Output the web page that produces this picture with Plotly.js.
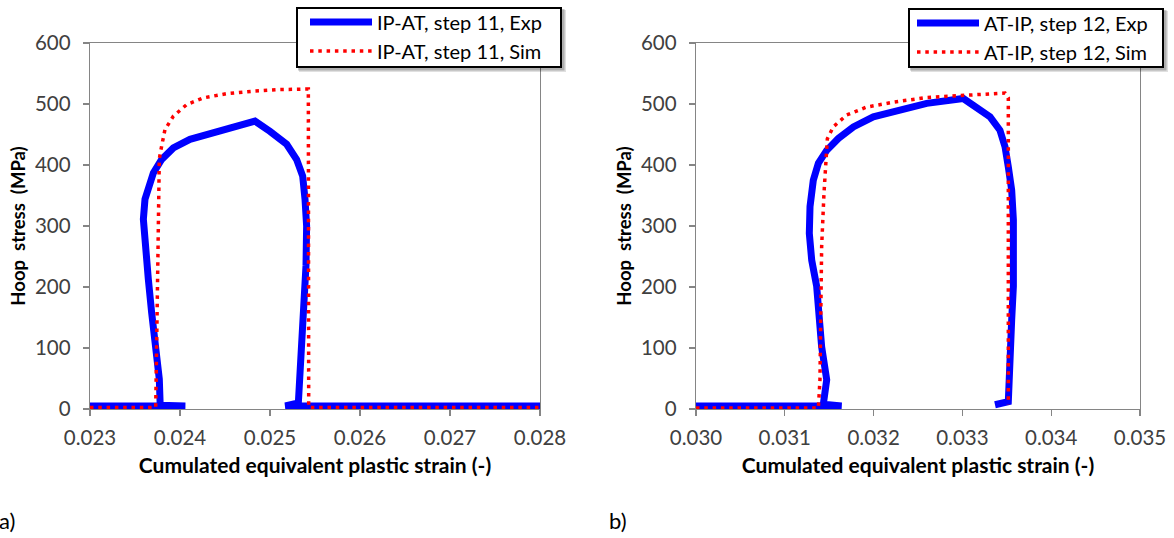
<!DOCTYPE html>
<html>
<head>
<meta charset="utf-8">
<script src="https://cdn.plot.ly/plotly-3.0.1.min.js"></script>
<style>html,body{margin:0;padding:0;background:#fff;}#chart{width:1174px;height:538px;}</style>
</head>
<body>
<div id="chart"></div>
<script>
// ---- Panel a) IP-AT, step 11 ----
const expA_x = [0.0230, 0.02406, 0.02378, 0.02377, 0.023722, 0.023685, 0.023648, 0.023611, 0.023593, 0.023611, 0.023648, 0.023704, 0.023796, 0.023926, 0.024111, 0.02437, 0.024593, 0.024833, 0.025, 0.025185, 0.025296, 0.025363, 0.025389, 0.025407, 0.0254, 0.025378, 0.025363, 0.025333, 0.025315, 0.02517, 0.0280];
const expA_y = [5, 5, 6, 49, 104, 158, 213, 267, 311, 344, 365, 387, 409, 428, 442, 453, 464, 472, 455, 434, 409, 382, 344, 300, 235, 169, 104, 49, 10, 5, 5];
const simA_x = [0.0230, 0.02373, 0.023745, 0.02376, 0.02377, 0.023796, 0.023833, 0.023926, 0.024074, 0.024259, 0.024519, 0.024815, 0.025111, 0.025426, 0.025428, 0.02543, 0.0280];
const simA_y = [2.5, 2.5, 150, 300, 410, 431, 458, 480, 499, 510, 517, 521, 523.6, 524.5, 300, 2.5, 2.5];

// ---- Panel b) AT-IP, step 12 ----
const expB_x = [0.0300, 0.03164, 0.031434, 0.031472, 0.031415, 0.031389, 0.031359, 0.031303, 0.031276, 0.031284, 0.031321, 0.031378, 0.031472, 0.031603, 0.031772, 0.031997, 0.032297, 0.032598, 0.03301, 0.033161, 0.033311, 0.033423, 0.03348, 0.033517, 0.033555, 0.033574, 0.033581, 0.033574, 0.033555, 0.033544, 0.033536, 0.033517, 0.033367];
const expB_y = [5, 5, 8, 48, 102, 157, 201, 244, 288, 332, 375, 403, 424, 443.5, 462.5, 479, 490, 501, 509, 495, 479, 457, 430, 397, 359, 310, 255, 201, 146, 92, 37, 12, 7];
const simB_x = [0.0300, 0.031378, 0.031396, 0.031407, 0.031415, 0.031441, 0.031464, 0.031479, 0.031546, 0.031697, 0.031922, 0.032222, 0.032598, 0.032973, 0.033274, 0.03348, 0.033517, 0.033517];
const simB_y = [1.5, 1.5, 48, 157, 266, 353, 419, 443, 462.5, 482, 495, 503, 510.6, 514, 517, 518, 510, 7];

const names = ["IP-AT, step 11, Exp", "IP-AT, step 11, Sim", "AT-IP, step 12, Exp", "AT-IP, step 12, Sim"];
const yTicks = [0, 100, 200, 300, 400, 500, 600];
const xTicksA = [0.023, 0.024, 0.025, 0.026, 0.027, 0.028];
const xTicksB = [0.030, 0.031, 0.032, 0.033, 0.034, 0.035];

const FONT = "Lato, 'Open Sans', sans-serif";
const BLUE = "#0000ff", RED = "#ff0000";
const expLine = {color: BLUE, width: 7};
const simLine = {color: RED, width: 3.5, dash: "3.5px,4.8px"};

const traces = [
  {x: expA_x, y: expA_y, name: names[0], mode: "lines", line: expLine, xaxis: "x", yaxis: "y", legend: "legend"},
  {x: simA_x, y: simA_y, name: names[1], mode: "lines", line: simLine, xaxis: "x", yaxis: "y", legend: "legend"},
  {x: expB_x, y: expB_y, name: names[2], mode: "lines", line: expLine, xaxis: "x2", yaxis: "y2", legend: "legend2"},
  {x: simB_x, y: simB_y, name: names[3], mode: "lines", line: simLine, xaxis: "x2", yaxis: "y2", legend: "legend2"}
];

const axisCommon = {
  showline: true, mirror: true, linecolor: "#858585", linewidth: 1.3,
  ticks: "outside", ticklen: 6, tickcolor: "#858585", tickwidth: 1.3,
  showgrid: false, zeroline: false, automargin: false,
  tickfont: {family: FONT, size: 20.5, color: "#404040"}
};
const xTitle = {text: "Cumulated equivalent plastic strain (-)", font: {family: FONT, size: 21, color: "#000", weight: "bold"}, standoff: 10};
const yTitle = {text: "Hoop\u00a0 stress\u00a0 (MPa)", font: {family: FONT, size: 18.5, color: "#000", weight: "bold"}, standoff: 4};

const legendCommon = {
  bgcolor: "rgba(0,0,0,0)", bordercolor: "rgba(0,0,0,0)", borderwidth: 2,
  font: {family: FONT, size: 20, color: "#000"},
  xanchor: "left", yanchor: "top", itemwidth: 62
};

// pixel -> paper helpers
function px2x(p) { return (p - 90) / 1050; }
function px2y(p) { return (409.5 - p) / 366.5; }
// legend frames (box + soft shadow)
function frame(x0, x1, y0, y1) {
  return [
    {type: "rect", xref: "paper", yref: "paper", x0: px2x(x0 + 2), x1: px2x(x1 + 5), y0: px2y(y0 + 2), y1: px2y(y1 + 5),
     fillcolor: "rgba(0,0,0,0.12)", line: {width: 0}, layer: "above"},
    {type: "rect", xref: "paper", yref: "paper", x0: px2x(x0 + 1), x1: px2x(x1 + 3.5), y0: px2y(y0 + 1), y1: px2y(y1 + 3.5),
     fillcolor: "rgba(0,0,0,0.22)", line: {width: 0}, layer: "above"},
    {type: "rect", xref: "paper", yref: "paper", x0: px2x(x0), x1: px2x(x1), y0: px2y(y0), y1: px2y(y1),
     fillcolor: "#ffffff", line: {color: "#000000", width: 2}, layer: "above"}
  ];
}

const layout = {
  width: 1174, height: 538,
  margin: {l: 90, r: 34, t: 43, b: 128.5, autoexpand: false},
  paper_bgcolor: "#ffffff", plot_bgcolor: "#ffffff",
  showlegend: true,
  xaxis: Object.assign({}, axisCommon, {domain: [0, 0.428571], range: [0.023, 0.028], tickvals: xTicksA, tickformat: ".3f", ticklabelstandoff: 4, title: xTitle, anchor: "y"}),
  yaxis: Object.assign({}, axisCommon, {range: [0, 600], tickvals: yTicks, ticklabelstandoff: 8, title: yTitle, anchor: "x"}),
  xaxis2: Object.assign({}, axisCommon, {domain: [0.577143, 1], range: [0.030, 0.035], tickvals: xTicksB, tickformat: ".3f", ticklabelstandoff: 4, title: xTitle, anchor: "y2"}),
  yaxis2: Object.assign({}, axisCommon, {range: [0, 600], tickvals: yTicks, ticklabelstandoff: 8, title: yTitle, anchor: "x2"}),
  legend: Object.assign({}, legendCommon, {x: px2x(303), y: px2y(0.5)}),
  legend2: Object.assign({}, legendCommon, {x: px2x(910), y: px2y(1.5)}),
  shapes: [].concat(frame(297, 561, 8, 67), frame(909, 1163, 9, 67)),
  annotations: [
    {text: "a)", xref: "paper", yref: "paper", x: px2x(-3), y: px2y(521), xanchor: "left", yanchor: "middle", showarrow: false, font: {family: FONT, size: 22, color: "#000"}},
    {text: "b)", xref: "paper", yref: "paper", x: px2x(607), y: px2y(521), xanchor: "left", yanchor: "middle", showarrow: false, font: {family: FONT, size: 22, color: "#000"}}
  ]
};

Plotly.newPlot("chart", traces, layout, {displayModeBar: false, staticPlot: true});
</script>
</body>
</html>
